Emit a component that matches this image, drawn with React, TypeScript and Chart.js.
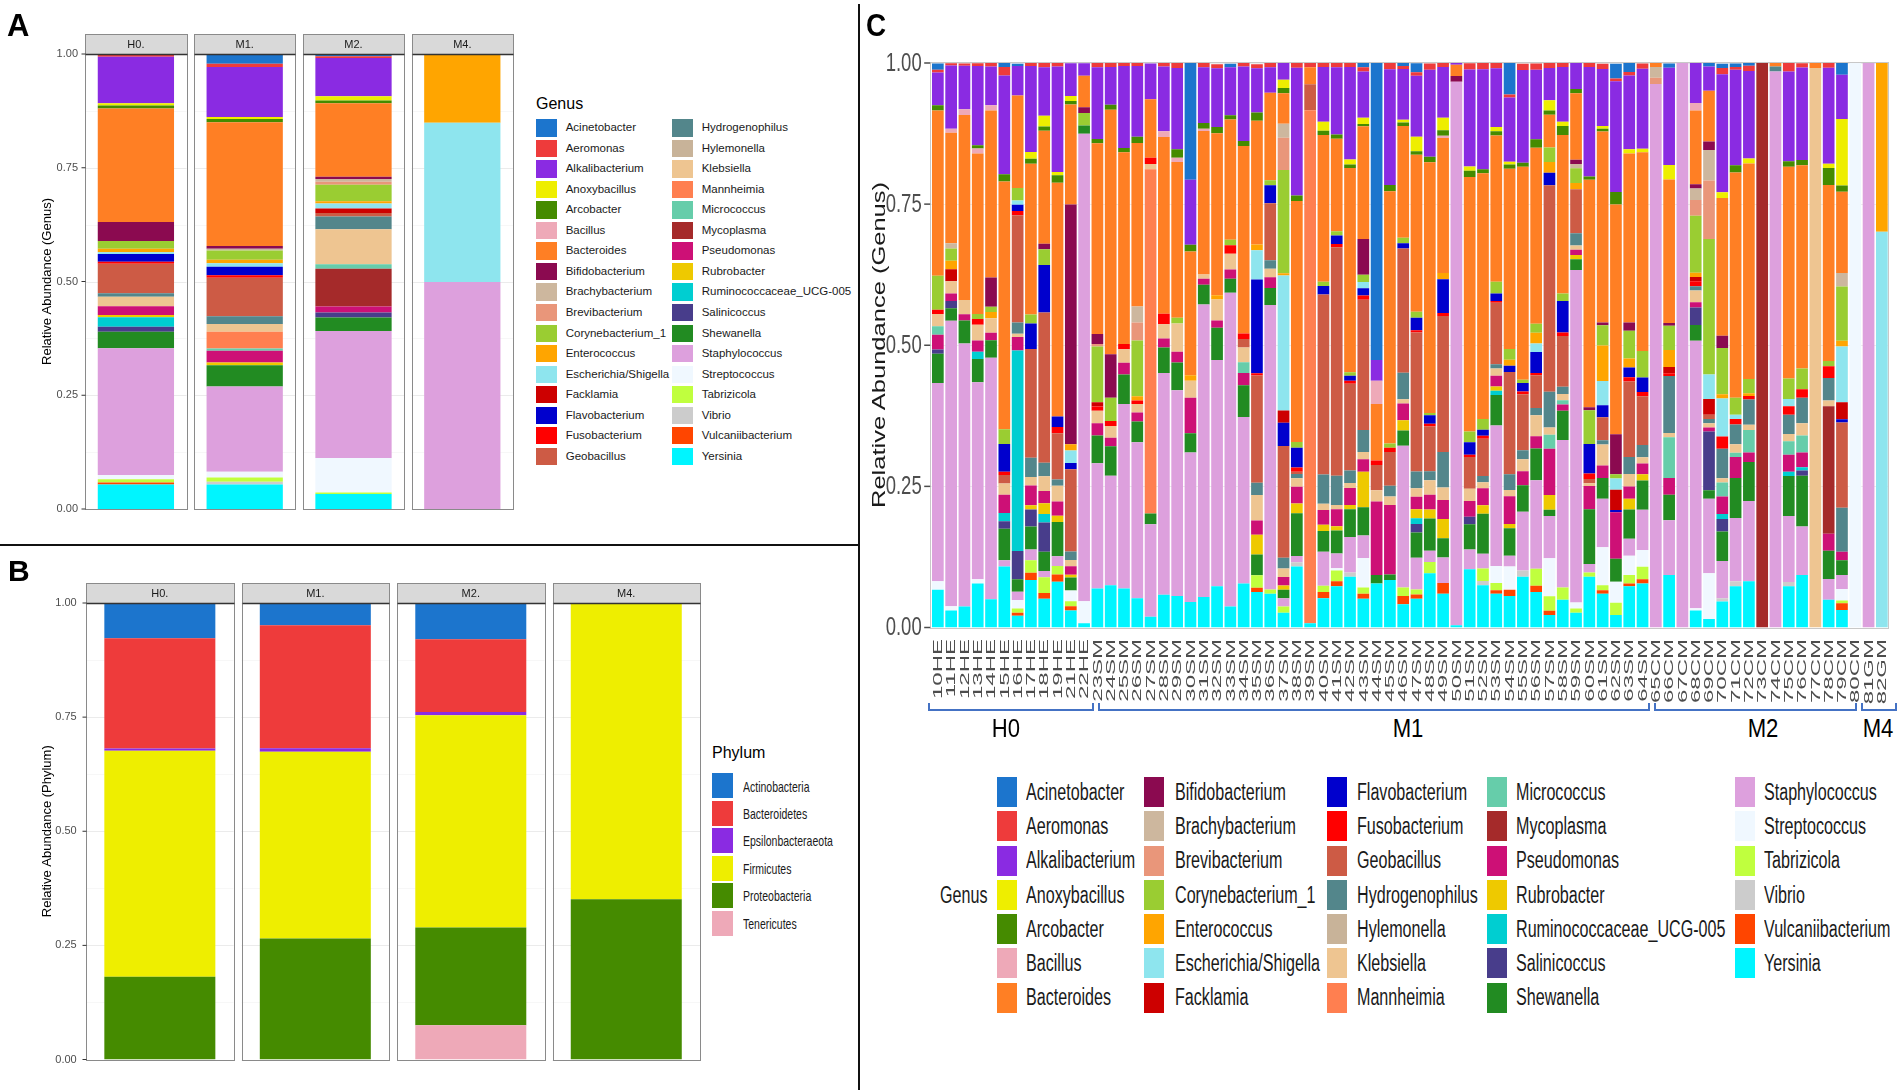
import React, { useEffect, useRef } from "react";
import { Chart, registerables } from "chart.js";

Chart.register(...registerables);

const FONT = "'Liberation Sans', Arial, Helvetica, sans-serif";
Chart.defaults.font.family = FONT;

// ---------- categories ----------
const genera = [
  "Acinetobacter", "Aeromonas", "Alkalibacterium", "Anoxybacillus", "Arcobacter", "Bacillus",
  "Bacteroides", "Bifidobacterium", "Brachybacterium", "Brevibacterium", "Corynebacterium_1",
  "Enterococcus", "Escherichia/Shigella", "Facklamia", "Flavobacterium", "Fusobacterium",
  "Geobacillus", "Hydrogenophilus", "Hylemonella", "Klebsiella", "Mannheimia", "Micrococcus",
  "Mycoplasma", "Pseudomonas", "Rubrobacter", "Ruminococcaceae_UCG-005", "Salinicoccus",
  "Shewanella", "Staphylococcus", "Streptococcus", "Tabrizicola", "Vibrio", "Vulcaniibacterium",
  "Yersinia",
];
const genusColors = [
  "#1C75CD", "#EE3B3B", "#8A2BE2", "#EEEE00", "#458B00", "#EEA9B8",
  "#FF7F24", "#8B0A50", "#CDB79E", "#E9967A", "#9ACD32",
  "#FFA500", "#8EE5EE", "#CD0000", "#0000CD", "#FF0000",
  "#CD5B45", "#53868B", "#C8B399", "#EEC591", "#FF7F50", "#66CDAA",
  "#A52A2A", "#CD1076", "#EEC900", "#00CED1", "#483D8B",
  "#228B22", "#DDA0DD", "#F0F8FF", "#C0FF3E", "#CCCCCC", "#FF4500",
  "#00F5FF",
];
const phyla = ["Actinobacteria", "Bacteroidetes", "Epsilonbacteraeota", "Firmicutes", "Proteobacteria", "Tenericutes"];
const phylumColors = ["#1C75CD", "#EE3B3B", "#8A2BE2", "#EEEE00", "#458B00", "#EEA9B8"];
const facetLabels = ["H0.", "M1.", "M2.", "M4."];
const yTickValues = [0, 0.25, 0.5, 0.75, 1];
const yTickLabels = ["0.00", "0.25", "0.50", "0.75", "1.00"];
const sampleLabels = [
  "10HE", "11HE", "12HE", "13HE", "14HE", "15HE", "16HE", "17HE", "18HE", "19HE", "21HE", "22HE",
  "23SM", "24SM", "25SM", "26SM", "27SM", "28SM", "29SM", "30SM", "31SM", "32SM", "33SM", "34SM",
  "35SM", "36SM", "37SM", "38SM", "39SM", "40SM", "41SM", "42SM", "43SM", "44SM", "45SM", "46SM",
  "47SM", "48SM", "49SM", "50SM", "51SM", "52SM", "53SM", "54SM", "55SM", "56SM", "57SM", "58SM",
  "59SM", "60SM", "61SM", "62SM", "63SM", "64SM", "65CM", "66CM", "67CM", "68CM", "69CM", "70CM",
  "71CM", "72CM", "73CM", "74CM", "75CM", "76CM", "77CM", "78CM", "79CM", "80CM", "81GM", "82GM",
];
const groupLabels = ["H0", "M1", "M2", "M4"];

// ---------- Panel A: genus abundance per group [H0, M1, M2, M4] ----------
const aAcinetobacter = [0, 0.023, 0.004, 0];
const aAeromonas = [0.005, 0.007, 0.004, 0];
const aAlkalibacterium = [0.102, 0.11, 0.084, 0];
const aAnoxybacillus = [0.005, 0.0045, 0.009, 0];
const aArcobacter = [0.007, 0.007, 0.006, 0];
const aBacillus = [0, 0, 0, 0];
const aBacteroides = [0.249, 0.272, 0.162, 0];
const aBifidobacterium = [0.042, 0.006, 0.0045, 0];
const aBrachybacterium = [0, 0.004, 0.006, 0];
const aBrevibacterium = [0, 0, 0.007, 0];
const aCorynebacterium = [0.017, 0.02, 0.036, 0];
const aEnterococcus = [0.0075, 0.008, 0.005, 0.151];
const aEscherichia = [0.004, 0.0075, 0.011, 0.35];
const aFacklamia = [0, 0, 0.01, 0];
const aFlavobacterium = [0.017, 0.019, 0, 0];
const aFusobacterium = [0.0045, 0.005, 0, 0];
const aGeobacillus = [0.065, 0.085, 0.0075, 0];
const aHydrogenophilus = [0.0075, 0.017, 0.028, 0];
const aHylemonella = [0, 0, 0, 0];
const aKlebsiella = [0.021, 0.017, 0.077, 0];
const aMannheimia = [0, 0.037, 0, 0];
const aMicrococcus = [0, 0.0045, 0.01, 0];
const aMycoplasma = [0, 0, 0.083, 0];
const aPseudomonas = [0.019, 0.026, 0.013, 0];
const aRubrobacter = [0.005, 0.006, 0, 0];
const aRuminococcaceae = [0.021, 0, 0, 0];
const aSalinicoccus = [0.011, 0, 0.011, 0];
const aShewanella = [0.036, 0.047, 0.03, 0];
const aStaphylococcus = [0.279, 0.187, 0.279, 0.499];
const aStreptococcus = [0.009, 0.013, 0.076, 0];
const aTabrizicola = [0.0075, 0.009, 0.003, 0];
const aVibrio = [0, 0.006, 0, 0];
const aVulcaniibacterium = [0.004, 0, 0, 0];
const aYersinia = [0.054, 0.054, 0.033, 0];
const panelAValues = [
  aAcinetobacter, aAeromonas, aAlkalibacterium, aAnoxybacillus, aArcobacter, aBacillus,
  aBacteroides, aBifidobacterium, aBrachybacterium, aBrevibacterium, aCorynebacterium,
  aEnterococcus, aEscherichia, aFacklamia, aFlavobacterium, aFusobacterium,
  aGeobacillus, aHydrogenophilus, aHylemonella, aKlebsiella, aMannheimia, aMicrococcus,
  aMycoplasma, aPseudomonas, aRubrobacter, aRuminococcaceae, aSalinicoccus,
  aShewanella, aStaphylococcus, aStreptococcus, aTabrizicola, aVibrio, aVulcaniibacterium,
  aYersinia,
];

// ---------- Panel B: phylum abundance per group [H0, M1, M2, M4] ----------
const bActinobacteria = [0.077, 0.049, 0.079, 0];
const bBacteroidetes = [0.242, 0.269, 0.159, 0];
const bEpsilonbacteraeota = [0.0045, 0.008, 0.0075, 0];
const bFirmicutes = [0.495, 0.409, 0.465, 0.649];
const bProteobacteria = [0.1815, 0.265, 0.214, 0.351];
const bTenericutes = [0, 0, 0.075, 0];
const panelBValues = [bActinobacteria, bBacteroidetes, bEpsilonbacteraeota, bFirmicutes, bProteobacteria, bTenericutes];

// ---------- Panel C: genus abundance per sample (72 samples) ----------
const cAcinetobacter = [
  .011,0,0,0,0,.0075,.004,0,0,0,0,0,
  0,0,0,0,0,0,0,.207,0,0,.006,0,
  0,0,0,0,0,0,0,0,.0075,.526,0,.006,
  .016,0,0,0,0,0,0,.056,0,0,0,0,
  0,0,0,.026,.016,0,0,.0075,0,0,.006,.0075,
  .006,.006,0,0,0,0,0,0,.021,0,0,0];
const cAeromonas = [
  .005,.004,.004,.005,.006,.015,0,.006,.0075,.0075,0,0,
  .0075,.0075,.006,.006,0,.006,.009,0,.0075,.0075,0,.006,
  .0075,.009,0,.009,.0075,.0075,.0075,.0075,.0075,0,.011,.005,
  .006,.011,.009,0,.011,.011,.011,.005,.011,.011,.009,.0075,
  0,.0075,.009,.005,.006,.009,0,0,0,0,0,.011,
  .005,.009,0,0,.016,.0075,0,.009,0,0,0,0];
const cAlkalibacterium = [
  .058,.112,.077,.14,.069,.175,.052,.152,.086,.187,.058,.022,
  .127,.067,.145,.125,.063,.115,.144,.115,.099,.104,.085,.132,
  .078,.045,.03,.226,0,.097,.119,.164,.082,.037,.205,.09,
  .108,.154,.09,.004,.172,.177,.104,.114,.164,.123,.057,.097,
  .046,.194,.101,.196,.131,.142,0,.172,0,.071,.043,.209,
  .169,.155,0,0,.159,.164,0,.17,.078,0,0,0];
const cAnoxybacillus = [
  0,0,0,0,0,0,0,.012,.019,.006,.009,0,
  0,0,0,0,0,0,0,0,0,0,0,0,
  0,0,.015,0,0,.016,0,.009,.011,0,0,.005,
  .026,0,.022,0,.0075,0,.0075,.005,0,0,.018,.0075,
  0,0,.005,0,.0075,.006,0,.026,0,0,0,.01,
  0,.009,0,0,0,0,0,.0075,.118,0,0,0];
const cArcobacter = [
  .009,0,0,.006,0,.013,0,.009,.0075,.013,.006,0,
  .0075,.009,.0075,.011,0,0,.015,.012,.01,.011,.0075,.009,
  .015,0,.009,.01,0,.0075,.0075,.006,.004,0,.011,.006,
  .006,.01,.01,0,.011,.0075,.0075,.0075,.0075,.015,.0075,.016,
  .0075,.006,.005,.022,0,0,0,0,0,0,0,0,
  .013,0,0,0,.01,.009,0,.03,.011,0,0,0];
const cBacillus = [
  0,.007,.01,.009,.009,0,0,0,0,0,0,0,
  0,0,0,0,0,.01,.0075,0,.004,0,0,0,
  0,0,0,0,0,0,0,0,0,.041,0,0,
  0,0,.004,0,0,0,0,0,0,0,0,0,
  0,0,0,0,0,0,0,0,0,.013,0,0,
  0,0,0,0,0,0,0,0,0,0,0,0];
const cBacteroides = [
  .293,.196,.328,.284,.296,.439,.164,.267,.2,.414,.177,.056,
  .338,.433,.34,.29,.104,.313,.276,.219,.254,.287,.213,.332,
  .219,.155,.054,.427,.03,.26,.164,.362,.2,.1,.447,.198,
  .278,.444,.239,.02,.451,.435,.259,.319,.377,.312,.058,.281,
  .118,.403,.338,.407,.299,.352,.0075,.254,0,.131,.09,.244,
  .399,.382,0,.006,.375,.36,.009,.312,.144,0,0,0];
const cBifidobacterium = [
  0,0,0,0,.052,0,0,0,.01,0,.425,.01,
  .018,.077,0,0,0,0,0,0,0,0,0,0,
  0,0,0,0,0,0,0,0,.063,0,0,0,
  0,0,0,.01,0,0,0,0,0,0,0,0,
  .0075,.005,.005,.071,.015,0,0,.005,0,.0075,.015,.022,
  0,0,0,0,0,0,0,0,0,0,0,0];
const cBrachybacterium = [
  0,.009,0,0,0,0,0,0,0,0,0,0,
  0,0,0,.028,0,0,0,0,0,0,0,0,
  0,0,.025,0,0,0,0,0,0,0,0,0,
  0,0,0,0,0,0,0,0,0,0,0,0,
  .0075,0,0,0,0,0,.019,0,0,.02,.054,0,
  0,0,0,0,0,0,0,0,.024,0,0,0];
const cBrevibacterium = [
  0,0,0,0,0,0,0,0,0,0,0,0,
  .004,0,0,.032,0,0,0,0,0,0,0,0,
  0,0,.057,0,0,0,0,0,0,0,0,0,
  0,0,0,0,0,0,0,0,0,0,0,0,
  0,0,0,0,0,0,.011,0,0,.028,.104,0,
  0,0,0,0,0,0,0,0,0,0,0,0];
const cCorynebacterium = [
  .06,.022,0,.009,.009,.026,.022,.016,.028,0,0,.022,
  .099,.041,0,.099,0,0,.01,0,0,0,.01,0,
  0,.009,.183,.01,0,.0075,.0075,.006,.013,0,.0075,.01,
  .011,.004,0,0,.019,.019,.021,.019,.006,.016,.026,.013,
  .026,.06,.036,.0075,.049,.047,0,.043,0,.101,.24,.082,
  .03,.025,0,0,.036,.037,0,.009,.096,0,0,0];
const cEnterococcus = [
  0,.015,0,0,.011,0,0,0,0,0,.011,0,
  0,0,0,.0075,0,0,0,.01,0,.0075,0,0,
  .01,0,.004,0,0,0,0,0,0,0,0,0,
  0,0,.011,0,0,0,0,.011,0,.019,.019,0,
  .011,0,.063,0,.016,0,0,.03,0,.0075,0,.0075,
  0,.005,0,0,0,0,0,0,.01,0,0,.299];
const cEscherichia = [
  0,0,0,0,0,0,.0075,0,0,0,.022,0,
  0,0,0,0,0,0,0,0,0,0,0,0,
  .052,0,.239,0,0,0,0,0,.011,0,0,0,
  0,0,0,0,0,0,0,0,0,.015,0,0,
  0,0,.043,.02,0,0,0,0,0,0,.043,.067,
  .0075,0,0,0,.013,0,0,0,.099,0,0,.701];
const cFacklamia = [
  0,.021,0,0,0,0,0,0,0,0,0,0,
  .0075,0,0,0,0,0,0,0,0,0,0,0,
  0,0,.022,0,0,0,0,0,0,0,0,0,
  0,0,0,0,0,0,0,0,0,0,0,0,
  0,0,0,.036,0,0,0,.011,0,.0075,.028,0,
  0,0,0,0,0,0,0,0,.03,0,0,0];
const cFlavobacterium = [
  0,0,0,0,0,.049,.011,.045,.084,.019,.011,0,
  0,0,0,0,0,0,0,0,0,0,0,0,
  .166,.032,.041,.035,0,.015,.015,.009,.013,0,0,.009,
  .022,.015,.06,0,.022,.011,.013,.011,.015,.037,.022,.056,
  0,.052,.021,.004,.017,.026,0,0,0,0,0,0,
  0,0,0,0,0,0,0,0,.006,0,0,0];
const cFusobacterium = [
  .0075,0,0,.01,0,.006,.0075,0,0,.011,0,0,
  .0075,.009,.009,.006,.011,.019,0,0,0,0,.015,.01,
  .004,0,0,.0075,0,0,.006,.005,.0075,.008,.0075,0,
  .004,.005,.005,0,.004,.005,.003,0,.005,.004,0,.006,
  0,.01,0,0,.0075,.0075,0,.005,0,.009,0,.022,
  .01,.006,0,0,.015,.015,0,.021,0,0,0,0];
const cGeobacillus = [
  0,0,0,0,0,.015,.19,.193,.266,.082,.146,0,
  0,0,0,0,0,0,0,0,0,0,0,.015,
  .19,.101,.198,.004,.046,.319,.4045,.154,.2305,.045,.06,.22,
  .246,.079,.241,0,.056,.066,.109,.181,.099,.058,.366,.09,
  .078,.0075,.041,0,.134,.086,0,0,0,0,.0075,0,
  0,0,0,0,0,0,0,0,.151,0,0,0];
const cHydrogenophilus = [
  0,0,0,0,0,0,.02,.034,.024,.011,.015,0,
  0,0,0,0,0,0,0,0,0,0,0,0,
  .022,.015,.019,.0075,0,.052,.052,.022,.039,0,.019,.047,
  .03,.016,.063,0,0,.011,.0075,.028,.016,.013,.063,.013,
  .022,0,.0075,0,.03,.022,0,.101,0,.0075,.0075,.052,
  .035,.045,0,.009,.034,.045,0,.04,.078,0,0,0];
const cHylemonella = [
  0,0,0,0,0,0,0,0,0,0,0,0,
  0,0,0,0,0,0,0,0,0,0,0,0,
  0,0,0,0,0,0,0,0,0,0,0,0,
  0,0,0,0,0,0,0,0,0,0,0,0,
  0,0,0,0,0,0,0,0,0,0,0,0,
  0,0,0,0,0,0,0,0,0,0,0,0];
const cKlebsiella = [
  .022,.022,.025,.028,.026,.02,.006,.015,.026,.028,.011,0,
  .022,.021,.024,.015,.009,.025,.05,.03,.0075,.037,.028,.026,
  .045,.015,.015,.015,0,.011,.0075,.009,.013,.02,.015,.0075,
  .015,.026,.022,0,.022,.011,.013,.011,.021,.037,.013,.011,
  .0075,.005,.037,0,.022,.011,0,.0075,0,.021,.0075,.0075,
  .015,.009,0,0,.013,.022,.991,.01,0,0,0,0];
const cMannheimia = [
  0,0,0,0,0,0,0,0,0,0,0,0,
  0,0,0,0,.61,0,0,0,0,0,0,0,
  0,0,0,0,.909,0,0,0,0,0,0,0,
  0,0,0,0,0,0,0,0,0,0,0,0,
  0,0,0,0,0,0,0,0,0,0,0,0,
  0,0,0,0,0,0,0,0,0,0,0,0];
const cMicrococcus = [
  .015,0,0,0,0,0,0,0,0,0,0,0,
  0,0,0,0,0,0,0,0,0,0,0,.019,
  0,0,0,0,0,0,0,0,0,0,0,0,
  0,0,0,0,0,0,0,0,0,0,.025,.0075,
  0,0,0,0,0,0,0,.072,0,0,0,.025,
  .0075,.04,0,0,.024,.03,0,0,0,0,0,0];
const cMycoplasma = [
  0,0,0,0,0,0,0,0,0,0,0,0,
  0,0,0,0,0,0,0,0,0,0,0,0,
  0,0,0,0,0,0,0,0,0,0,0,0,
  0,0,0,0,0,0,0,0,0,0,0,0,
  0,0,0,0,0,0,0,0,0,0,0,0,
  0,0,1,0,0,0,0,.226,0,0,0,0];
const cPseudomonas = [
  .026,.013,.011,.02,.013,.032,.024,.035,.022,.025,.015,0,
  .022,.015,.021,.016,0,.016,.019,.063,.011,.013,.016,.022,
  .025,.019,.015,.03,0,.026,.03,.03,.022,.13,.123,.03,
  .022,.026,.034,0,.028,.03,.019,.049,.025,.022,.082,.011,
  .009,.041,.022,.082,.022,.019,0,.03,0,.009,.0075,.031,
  .037,.017,0,0,.03,.026,0,.03,.015,0,0,0];
const cRubrobacter = [
  0,0,0,0,0,0,0,.0075,.019,.011,.005,0,
  0,0,0,0,0,0,0,0,0,0,0,0,
  .035,0,.0075,.017,0,.011,.0075,.0075,.063,0,0,.018,
  .016,.016,.034,0,0,.015,.0075,.0075,0,0,.026,0,
  .0075,0,0,0,.019,.011,0,0,0,0,0,0,
  0,0,0,0,0,0,0,0,0,0,0,0];
const cRuminococcaceae = [
  0,0,0,.013,0,.015,.355,0,.015,0,0,0,
  0,0,0,0,0,0,0,0,0,0,0,0,
  0,0,0,0,0,0,0,0,0,0,0,0,
  .01,0,0,0,0,0,.0075,0,0,0,0,0,
  0,0,0,0,0,0,0,0,0,0,0,.009,
  0,0,0,0,.0075,.006,0,0,0,0,0,0];
const cSalinicoccus = [
  .0075,.013,0,0,0,.013,.05,.03,.052,0,0,0,
  0,0,0,0,0,0,0,0,0,0,0,0,
  0,0,0,0,0,0,0,0,0,0,0,0,
  .015,0,0,0,.013,0,0,0,0,0,0,0,
  0,0,0,0,0,0,0,0,0,.031,.104,.022,
  0,0,0,0,0,.009,0,0,0,0,0,0];
const cShewanella = [
  .052,.022,.041,.041,.031,.056,.022,.041,.034,.061,.023,.015,
  .049,.052,.052,.037,.019,.045,.049,.034,.035,.057,.025,.056,
  .037,.03,.015,.076,0,.037,.041,.049,.05,.015,.01,.027,
  .045,.057,.034,0,.045,.071,.054,.049,.047,.056,.011,.052,
  .019,.097,.037,.041,.052,.052,0,.045,0,.028,.015,.052,
  .071,.069,0,0,.071,.09,0,.05,.026,0,0,0];
const cStaphylococcus = [
  .351,.506,.466,.349,.428,.011,.015,.019,.011,.017,0,.828,
  .222,.194,.327,.276,.164,.393,.3645,.265,.518,.401,.556,.295,
  0,.504,.015,.011,0,.06,.026,.063,.04,0,0,.251,
  .056,.02,.045,.963,.035,.026,.249,.019,.104,.157,.075,.261,
  .589,.015,.086,0,.03,.071,.963,.097,1,.474,.132,.066,
  .112,.142,0,.985,.117,.086,0,.037,.025,0,1,0];
const cStreptococcus = [
  .015,.0075,0,.0075,0,0,.015,0,0,0,.019,.039,
  0,0,0,0,0,0,0,0,0,0,0,0,
  0,0,0,0,0,0,.004,0,.052,0,0,0,
  0,0,0,0,0,0,.03,.041,0,0,.067,0,
  .011,0,.067,.037,.034,.03,0,0,0,.004,.081,0,
  0,0,0,0,0,0,0,0,.02,1,0,0];
const cTabrizicola = [
  0,0,0,0,0,0,.0075,.022,.028,.015,.009,0,
  0,0,0,0,0,0,0,0,0,0,0,0,
  .022,.0075,.011,0,0,.011,.019,0,.011,0,0,.015,
  .009,.02,0,0,0,.022,.013,0,0,.03,.026,.022,
  .0075,.0075,.009,.022,.015,.022,0,0,0,0,0,0,
  0,0,0,0,0,0,0,0,.005,0,0,0];
const cVibrio = [
  0,0,0,0,0,0,0,0,0,0,0,0,
  0,0,0,0,0,0,0,0,0,0,0,0,
  0,0,0,.0075,0,0,0,.0075,0,0,0,0,
  0,0,0,0,0,.0075,0,0,.011,0,0,0,
  0,0,0,0,0,0,0,0,0,0,0,.006,
  .009,0,0,0,.0075,0,0,0,0,0,0,0];
const cVulcaniibacterium = [
  0,0,0,0,0,0,.005,.013,.01,.013,.0075,0,
  0,0,0,0,0,0,0,0,0,0,0,0,
  .0075,0,0,0,0,.011,.009,0,.009,0,0,.015,
  .0075,0,.019,0,0,0,.006,.011,0,.011,.0075,0,
  0,0,.006,0,.005,.0075,0,0,0,0,0,0,
  0,0,0,0,0,0,0,0,.012,0,0,0];
const cYersinia = [
  .067,.03,.037,.078,.05,.108,.021,.084,.051,.081,.03,.0075,
  .069,.075,.069,.052,.019,.058,.056,.045,.054,.073,.037,.078,
  .063,.06,.026,.108,.0075,.052,.073,.09,.051,.078,.084,.041,
  .051,.096,.06,.004,.103,.075,.06,.056,.09,.063,.022,.049,
  .026,.09,.06,.022,.073,.078,0,.093,0,.03,.015,.046,
  .073,.082,0,0,.073,.093,0,.049,.031,0,0,0];
const panelCValues = [
  cAcinetobacter, cAeromonas, cAlkalibacterium, cAnoxybacillus, cArcobacter, cBacillus,
  cBacteroides, cBifidobacterium, cBrachybacterium, cBrevibacterium, cCorynebacterium,
  cEnterococcus, cEscherichia, cFacklamia, cFlavobacterium, cFusobacterium,
  cGeobacillus, cHydrogenophilus, cHylemonella, cKlebsiella, cMannheimia, cMicrococcus,
  cMycoplasma, cPseudomonas, cRubrobacter, cRuminococcaceae, cSalinicoccus,
  cShewanella, cStaphylococcus, cStreptococcus, cTabrizicola, cVibrio, cVulcaniibacterium,
  cYersinia,
];

// ---------- helpers ----------
function stackedDatasets(names: string[], colors: string[], values: number[][]) {
  // first level on top (ggplot order) -> reverse so it is stacked last / on top
  return names
    .map((n, i) => ({ label: n, data: values[i], backgroundColor: colors[i], borderWidth: 0 }))
    .reverse();
}

function line(ctx: any, x1: number, y1: number, x2: number, y2: number) {
  ctx.beginPath();
  ctx.moveTo(x1, y1);
  ctx.lineTo(x2, y2);
  ctx.stroke();
}

function makeFacetPlugin(id: string, halfW: number, stripH: number) {
  return {
    id,
    beforeDatasetsDraw(chart: any) {
      const { ctx, scales } = chart;
      const x = scales.x, y = scales.y;
      ctx.save();
      facetLabels.forEach((_, i) => {
        const cx = x.getPixelForValue(i);
        const l = cx - halfW, r = cx + halfW;
        ctx.strokeStyle = "#F3F3F3";
        ctx.lineWidth = 0.7;
        [0.125, 0.375, 0.625, 0.875].forEach((v) => {
          const py = Math.round(y.getPixelForValue(v)) + 0.5;
          line(ctx, l, py, r, py);
        });
        ctx.strokeStyle = "#EBEBEB";
        ctx.lineWidth = 1;
        yTickValues.forEach((v) => {
          const py = Math.round(y.getPixelForValue(v)) + 0.5;
          line(ctx, l, py, r, py);
        });
      });
      ctx.restore();
    },
    afterDatasetsDraw(chart: any) {
      const { ctx, chartArea, scales } = chart;
      const x = scales.x, y = scales.y;
      const top = Math.round(chartArea.top) + 0.5;
      const bottom = Math.round(chartArea.bottom) + 0.5;
      ctx.save();
      facetLabels.forEach((lab, i) => {
        const cx = x.getPixelForValue(i);
        const l = Math.round(cx - halfW) + 0.5, r = Math.round(cx + halfW) + 0.5;
        ctx.fillStyle = "#D9D9D9";
        ctx.fillRect(l, top - stripH, r - l, stripH);
        ctx.strokeStyle = "#8A8A8A";
        ctx.lineWidth = 1;
        ctx.strokeRect(l, top - stripH, r - l, stripH);
        ctx.strokeRect(l, top, r - l, bottom - top);
        ctx.strokeStyle = "#333333";
        ctx.lineWidth = 1.4;
        line(ctx, l, top, r, top);
        ctx.fillStyle = "#1A1A1A";
        ctx.font = `11px ${FONT}`;
        ctx.textAlign = "center";
        ctx.textBaseline = "middle";
        ctx.fillText(lab, cx, top - stripH / 2 + 0.5);
      });
      const l0 = Math.round(x.getPixelForValue(0) - halfW) + 0.5;
      ctx.strokeStyle = "#333333";
      ctx.lineWidth = 1;
      yTickValues.forEach((v) => {
        const py = y.getPixelForValue(v);
        line(ctx, l0 - 4, py, l0, py);
      });
      ctx.restore();
    },
  };
}

const cAxisPlugin = {
  id: "cAxis",
  beforeDatasetsDraw(chart: any) {
    const { ctx, chartArea: ca, scales } = chart;
    const y = scales.y;
    ctx.save();
    ctx.strokeStyle = "#EDEDED";
    ctx.lineWidth = 1;
    yTickValues.forEach((v) => {
      const py = Math.round(y.getPixelForValue(v)) + 0.5;
      line(ctx, ca.left, py, ca.right, py);
    });
    ctx.restore();
  },
  afterDatasetsDraw(chart: any) {
    const { ctx, chartArea: ca, scales } = chart;
    const x = scales.x, y = scales.y;
    ctx.save();
    ctx.strokeStyle = "#C8C8C8";
    ctx.lineWidth = 1;
    ctx.strokeRect(Math.round(ca.left) - 0.5, Math.round(ca.top) - 0.5, Math.round(ca.right - ca.left) + 1, Math.round(ca.bottom - ca.top) + 1);
    ctx.strokeStyle = "#4D4D4D";
    ctx.fillStyle = "#4D4D4D";
    ctx.lineWidth = 1.5;
    yTickValues.forEach((v, i) => {
      const py = y.getPixelForValue(v);
      line(ctx, ca.left - 7, py, ca.left - 1, py);
      ctx.save();
      ctx.translate(ca.left - 9.5, py);
      ctx.scale(0.74, 1);
      ctx.font = `25px ${FONT}`;
      ctx.textAlign = "right";
      ctx.textBaseline = "middle";
      ctx.fillText(yTickLabels[i], 0, 1);
      ctx.restore();
    });
    sampleLabels.forEach((lab, i) => {
      const px = x.getPixelForValue(i);
      ctx.save();
      ctx.translate(px, ca.bottom + 11.5);
      ctx.rotate(-Math.PI / 2);
      ctx.scale(1, 0.55);
      ctx.font = `24px ${FONT}`;
      ctx.textAlign = "right";
      ctx.textBaseline = "middle";
      ctx.fillText(lab, 0, 1);
      ctx.restore();
    });
    ctx.restore();
  },
};

function facetConfig(values: number[][], names: string[], colors: string[], opts: any) {
  return {
    type: "bar",
    data: { labels: facetLabels, datasets: stackedDatasets(names, colors, values) },
    options: {
      responsive: false,
      animation: false,
      layout: { padding: opts.padding },
      plugins: { legend: { display: false }, tooltip: { enabled: false } },
      datasets: { bar: { categoryPercentage: 1, barPercentage: opts.barPct } },
      scales: {
        x: { stacked: true, display: false },
        y: {
          stacked: true,
          min: 0,
          max: 1,
          afterFit: (s: any) => {
            s.width = opts.axisW;
          },
          ticks: {
            stepSize: 0.25,
            callback: (v: any) => Number(v).toFixed(2),
            font: { size: 11 },
            color: "#4D4D4D",
            padding: opts.tickPad,
          },
          grid: { display: false, drawTicks: false },
          border: { display: false },
          title: {
            display: true,
            text: opts.title,
            color: "#000000",
            font: { size: 13 },
            padding: { top: 39.2, bottom: 0 },
          },
        },
      },
    },
    plugins: [makeFacetPlugin(opts.id, opts.halfW, 20)],
  };
}

function Txt(props: any) {
  const { x, y, size, sx = 1, align = "left", weight = 400, color = "#1A1A1A", children } = props;
  const top = y - 0.8465 * size;
  const transform = align === "center" ? `translateX(-50%) scaleX(${sx})` : `scaleX(${sx})`;
  return (
    <div
      style={{
        position: "absolute",
        left: x,
        top,
        fontSize: size,
        lineHeight: `${size}px`,
        fontWeight: weight,
        color,
        whiteSpace: "nowrap",
        transform,
        transformOrigin: align === "center" ? "center" : "left",
      }}
    >
      {children}
    </div>
  );
}

const colAx = [536, 672.3];
const colAt = [565.7, 701.7];
const colCx = [997, 1144, 1327, 1487, 1735];
const colCt = [1026, 1175, 1357, 1516, 1764];
const brackets = [
  { left: 928, right: 1094, label: 0, lx: 1006 },
  { left: 1098, right: 1650, label: 1, lx: 1408 },
  { left: 1654, right: 1857, label: 2, lx: 1763 },
  { left: 1861, right: 1897, label: 3, lx: 1878 },
];

export default function App() {
  const aRef = useRef<HTMLCanvasElement>(null);
  const bRef = useRef<HTMLCanvasElement>(null);
  const cRef = useRef<HTMLCanvasElement>(null);

  useEffect(() => {
    document.documentElement.style.overflow = "hidden";
    const charts: any[] = [];
    charts.push(
      new Chart(aRef.current as any, facetConfig(panelAValues, genera, genusColors, {
        id: "facetA",
        padding: { top: 54, bottom: 11, left: 0, right: 13.3 },
        axisW: 81.5,
        tickPad: 3.5,
        halfW: 50.6,
        barPct: 0.701,
        title: "Relative Abundance (Genus)",
      }) as any)
    );
    charts.push(
      new Chart(bRef.current as any, facetConfig(panelBValues, phyla, phylumColors, {
        id: "facetB",
        padding: { top: 58, bottom: 25.5, left: 0, right: 6 },
        axisW: 82.1,
        tickPad: 5.4,
        halfW: 73.75,
        barPct: 0.714,
        title: "Relative Abundance (Phylum)",
      }) as any)
    );
    charts.push(
      new Chart(cRef.current as any, {
        type: "bar",
        data: { labels: sampleLabels, datasets: stackedDatasets(genera, genusColors, panelCValues) },
        options: {
          responsive: false,
          animation: false,
          layout: { padding: { left: 71.2, right: 15.5, top: 63, bottom: 84.5 } },
          plugins: { legend: { display: false }, tooltip: { enabled: false } },
          datasets: { bar: { categoryPercentage: 1, barPercentage: 0.88 } },
          scales: {
            x: { stacked: true, display: false },
            y: { stacked: true, display: false, min: 0, max: 1 },
          },
        },
        plugins: [cAxisPlugin],
      } as any)
    );
    return () => charts.forEach((c) => c.destroy());
  }, []);

  return (
    <div
      style={{
        position: "absolute",
        left: 0,
        top: 0,
        width: 1904,
        height: 1092,
        background: "#ffffff",
        overflow: "hidden",
        fontFamily: FONT,
      }}
    >
      <canvas ref={aRef} width={530} height={520} style={{ position: "absolute", left: 0, top: 0, width: 530, height: 520 }} />
      <canvas ref={bRef} width={710} height={540} style={{ position: "absolute", left: 0, top: 545, width: 710, height: 540 }} />
      <canvas ref={cRef} width={1044} height={712} style={{ position: "absolute", left: 860, top: 0, width: 1044, height: 712 }} />

      {/* dividers */}
      <div style={{ position: "absolute", left: 858, top: 4, width: 2, height: 1086, background: "#111" }} />
      <div style={{ position: "absolute", left: 0, top: 544, width: 859, height: 2, background: "#111" }} />

      {/* panel letters */}
      <Txt x={7} y={36} size={31} weight={700} color="#000">A</Txt>
      <Txt x={8} y={581.7} size={30} weight={700} color="#000">B</Txt>
      <Txt x={866} y={35.8} size={32} weight={700} sx={0.87} color="#000">C</Txt>

      {/* legend A */}
      <Txt x={536} y={110} size={16} color="#000">Genus</Txt>
      {genera.map((g, i) => {
        const col = Math.floor(i / 17);
        const row = i % 17;
        const top = 119.3 + 20.52 * row;
        return (
          <React.Fragment key={"la" + g}>
            <div style={{ position: "absolute", left: colAx[col], top, width: 21, height: 17.3, background: genusColors[i] }} />
            <Txt x={colAt[col]} y={top + 8.65 + 4.1} size={11.5}>{g}</Txt>
          </React.Fragment>
        );
      })}

      {/* legend B */}
      <Txt x={712} y={758.4} size={16} color="#000">Phylum</Txt>
      {phyla.map((p, i) => {
        const top = 773.3 + 27.47 * i;
        return (
          <React.Fragment key={"lb" + p}>
            <div style={{ position: "absolute", left: 712, top, width: 21, height: 25, background: phylumColors[i] }} />
            <Txt x={743} y={top + 12.5 + 5.4} size={15} sx={0.7}>{p}</Txt>
          </React.Fragment>
        );
      })}

      {/* panel C y title */}
      <div
        style={{
          position: "absolute",
          left: 878,
          top: 345,
          fontSize: 25.5,
          lineHeight: "26px",
          whiteSpace: "nowrap",
          color: "#1A1A1A",
          transform: "translate(-50%, -50%) rotate(-90deg) scaleY(0.74)",
        }}
      >
        Relative Abundance (Genus)
      </div>

      {/* group brackets */}
      {brackets.map((b) => (
        <React.Fragment key={"br" + b.label}>
          <div
            style={{
              position: "absolute",
              left: b.left,
              top: 703,
              width: b.right - b.left,
              height: 8,
              boxSizing: "border-box",
              borderLeft: "2px solid #4472C4",
              borderRight: "2px solid #4472C4",
              borderBottom: "2px solid #4472C4",
            }}
          />
          <Txt x={b.lx} y={737.3} size={26} sx={0.85} align="center" color="#000">{groupLabels[b.label]}</Txt>
        </React.Fragment>
      ))}

      {/* legend C */}
      <Txt x={940} y={903.3} size={23} sx={0.7} color="#1A1A1A">Genus</Txt>
      {genera.map((g, i) => {
        const col = Math.floor(i / 7);
        const row = i % 7;
        const cy = 792 + 34.25 * row;
        return (
          <React.Fragment key={"lc" + g}>
            <div style={{ position: "absolute", left: colCx[col], top: cy - 15, width: 20, height: 30, background: genusColors[i] }} />
            <Txt x={colCt[col]} y={cy + 8.3} size={23} sx={0.7}>{g}</Txt>
          </React.Fragment>
        );
      })}
    </div>
  );
}
